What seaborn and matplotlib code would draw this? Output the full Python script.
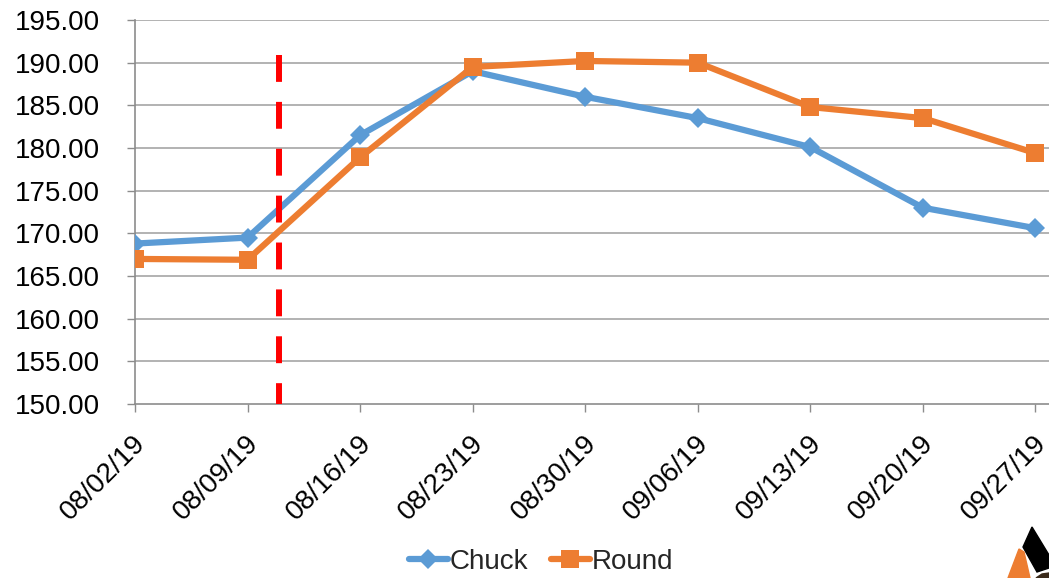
import numpy as np
import pandas as pd
import seaborn as sns
import matplotlib.pyplot as plt
import matplotlib.transforms as mtransforms
from matplotlib.patches import Polygon
from matplotlib.ticker import FuncFormatter

# Weekly values
dates = ['08/02/19', '08/09/19', '08/16/19', '08/23/19', '08/30/19',
         '09/06/19', '09/13/19', '09/20/19', '09/27/19']
chuck = [168.8, 169.5, 181.5, 189.0, 186.0, 183.5, 180.1, 173.0, 170.6]
round_ = [167.0, 166.9, 178.9, 189.5, 190.2, 190.0, 184.8, 183.5, 179.4]
event_pos = 1.28  # red dashed marker between 08/09 and 08/16

df = pd.DataFrame({
    'x': list(range(len(dates))) * 2,
    'price': chuck + round_,
    'cut': ['Chuck'] * len(dates) + ['Round'] * len(dates),
})

sns.set_style('white')
plt.rcParams['font.family'] = ['Liberation Sans', 'DejaVu Sans']

W, H = 1049, 578
fig = plt.figure(figsize=(W / 100, H / 100), dpi=100)
ax = fig.add_axes([135 / W, 1 - 404 / H, 1 - 135 / W, 384 / H])

# Grid first so lines sit on top
for yv in np.arange(155, 196, 5):
    ax.axhline(yv, color='#A6A6A6', lw=1.2, zorder=0)

sns.lineplot(data=df, x='x', y='price', hue='cut', style='cut',
             palette={'Chuck': '#5B9BD5', 'Round': '#ED7D31'},
             markers={'Chuck': 'D', 'Round': 's'}, dashes=False,
             lw=4.5, markersize=10.5, markeredgewidth=0, ax=ax, zorder=3)
for ln in ax.get_lines():
    if ln.get_marker() == 's':
        ln.set_markersize(13)

# drawn top-down so the dash pattern starts at the top
ax.plot([event_pos, event_pos], [190.9, 150], color='#FF0000', lw=4.3,
        dashes=(4.5, 3.35), zorder=4)

ax.set_ylim(150, 195)
ax.set_xlim(0, 8.12)
ax.set_yticks(np.arange(150, 196, 5))
ax.yaxis.set_major_formatter(FuncFormatter(lambda y, _: f'{y:.2f}'))
ax.set_xticks(range(len(dates)))
ax.set_xticklabels(dates, rotation=45, ha='right', va='center',
                   rotation_mode='anchor')
ax.tick_params(axis='both', labelsize=20, length=5.5, width=1,
               color='#8C8C8C', labelcolor='black', direction='out',
               bottom=True, left=True)
ax.tick_params(axis='y', pad=20)
ax.tick_params(axis='x', pad=19)
shift = mtransforms.ScaledTranslation(7 / 100, -1 / 100, fig.dpi_scale_trans)
for lab in ax.get_xticklabels():
    lab.set_transform(lab.get_transform() + shift)
ax.set_xlabel('')
ax.set_ylabel('')

for s in ['top', 'right']:
    ax.spines[s].set_visible(False)
for s in ['left', 'bottom']:
    ax.spines[s].set_color('#8C8C8C')
    ax.spines[s].set_linewidth(1.2)

handles, labels = ax.get_legend_handles_labels()
ax.legend_.remove()
fig.legend(handles, labels, loc='center', bbox_to_anchor=(0.516, 0.028),
           ncol=2, frameon=False, fontsize=20, handlelength=1.4,
           columnspacing=0.8, handletextpad=0.08)

# partial logo in the bottom right corner
def px(pts):
    return [(x / W, 1 - y / H) for x, y in pts]

fig.add_artist(Polygon(px([(1032, 527), (1049, 555), (1049, 568), (1037, 572),
                           (1023, 547)]),
                       closed=True, color='black', transform=fig.transFigure))
fig.add_artist(Polygon(px([(1019, 549), (1024, 552), (1030, 578), (1008, 578)]),
                       closed=True, color='#ED7D31', transform=fig.transFigure))
fig.add_artist(Polygon(px([(1036, 578), (1042, 574), (1049, 573), (1049, 578)]),
                       closed=True, color='#3A2A1A', transform=fig.transFigure))

plt.savefig('out.png', dpi=100)
plt.close()
